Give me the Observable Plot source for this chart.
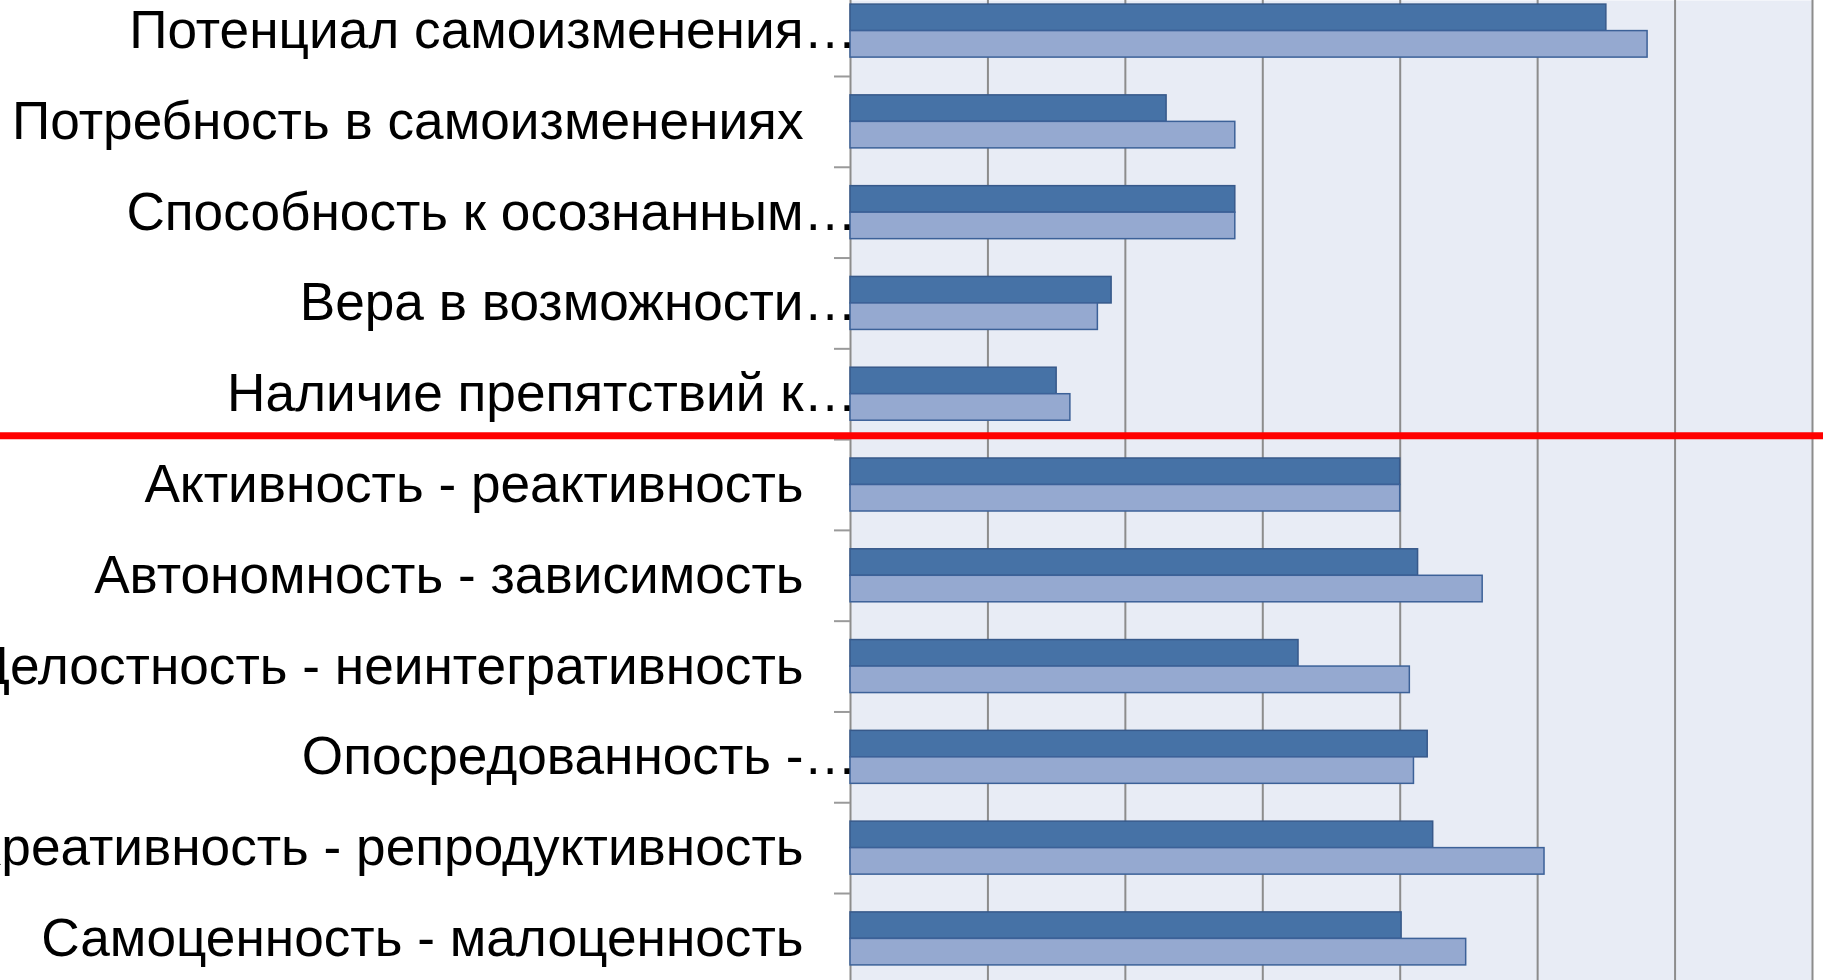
<!DOCTYPE html>
<html>
<head>
<meta charset="utf-8">
<script src="https://cdn.jsdelivr.net/npm/d3@7"></script>
<script src="https://cdn.jsdelivr.net/npm/@observablehq/plot@0.6"></script>
<style>
  html, body { margin: 0; padding: 0; background: #fff; overflow: hidden; }
  #chart svg { display: block; overflow: hidden; }
</style>
</head>
<body>
<div id="chart"></div>
<script>
// ---- data ----
const categories = [
  "Потенциал самоизменения…",
  "Потребность в самоизменениях",
  "Способность к осознанным…",
  "Вера в возможности…",
  "Наличие препятствий к…",
  "Активность - реактивность",
  "Автономность - зависимость",
  "Целостность - неинтегративность",
  "Опосредованность -…",
  "Креативность - репродуктивность",
  "Самоценность - малоценность"
];
const seriesDark  = [5.50, 2.30, 2.80, 1.90, 1.50, 4.00, 4.13, 3.26, 4.20, 4.24, 4.01];
const seriesLight = [5.80, 2.80, 2.80, 1.80, 1.60, 4.00, 4.60, 4.07, 4.10, 5.05, 4.48];
const xTicks = [0, 1, 2, 3, 4, 5, 6, 7];
const separatorBefore = "Активность - реактивность";

// ---- layout ----
const W = 1823, H = 980;
const bandRange = [-14.8, 983.8];
const bw = (bandRange[1] - bandRange[0]) / categories.length;
const barH = 26.5;
const fontSize = 53.2;

const rowsDark = categories.map((c, i) => ({cat: c, v: seriesDark[i]}));
const rowsLight = categories.map((c, i) => ({cat: c, v: seriesLight[i]}));
const truncated = categories.filter(c => c.endsWith("…"));
const full = categories.filter(c => !c.endsWith("…"));

const plot = Plot.plot({
  width: W,
  height: H,
  marginLeft: 850,
  marginRight: 11,
  marginTop: 0,
  marginBottom: 0,
  style: {background: "transparent", fontFamily: "'Liberation Sans', Arial, sans-serif"},
  x: {domain: [xTicks[0], xTicks[xTicks.length - 1]], axis: null},
  y: {domain: categories, range: bandRange, padding: 0, round: false, axis: null},
  marks: [
    Plot.frame({fill: "#E8ECF5", stroke: null}),
    Plot.gridX(xTicks, {stroke: "#8C8C8C", strokeOpacity: 1, strokeWidth: 2}),
    Plot.axisY({tickSize: 16, tickFormat: () => "", dy: -bw / 2, stroke: "#9A9A9A", strokeWidth: 2, label: null}),
    Plot.barX(rowsDark, {x: "v", y: "cat", fill: "#4672A6", stroke: "#37598A", strokeWidth: 1.5,
      insetTop: bw / 2 - barH, insetBottom: bw / 2}),
    Plot.barX(rowsLight, {x: "v", y: "cat", fill: "#95A9D0", stroke: "#3C6198", strokeWidth: 1.5,
      insetTop: bw / 2, insetBottom: bw / 2 - barH}),
    Plot.text(full, {y: d => d, text: d => d, frameAnchor: "left", textAnchor: "end",
      dx: -47, dy: 0, fontSize: fontSize, fill: "#000"}),
    Plot.text(truncated, {y: d => d, text: d => d, frameAnchor: "left", textAnchor: "end",
      dx: -47 + fontSize, dy: 0, fontSize: fontSize, fill: "#000"})
  ]
});

// red separator line across the whole picture, placed via the plot's y scale
const ys = plot.scale("y");
const ySep = ys.apply(separatorBefore) - 3.3;
d3.select(plot).append("line")
  .attr("x1", 0).attr("x2", W)
  .attr("y1", ySep).attr("y2", ySep)
  .attr("stroke", "#FF0000").attr("stroke-width", 7);

document.getElementById("chart").appendChild(plot);
</script>
</body>
</html>
